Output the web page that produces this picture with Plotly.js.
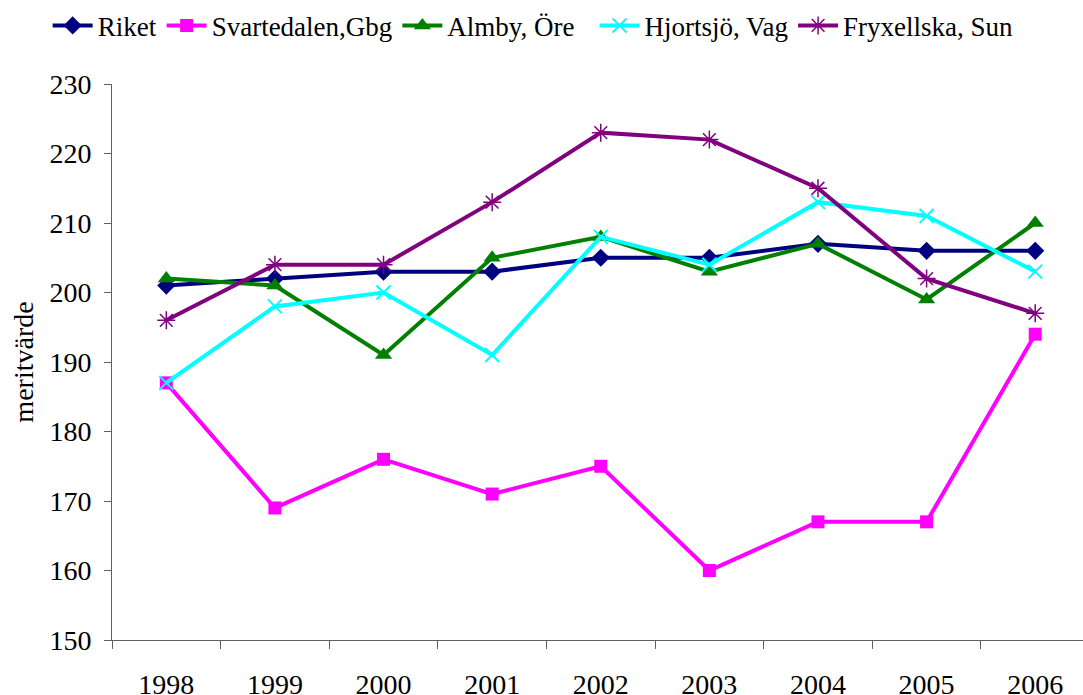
<!DOCTYPE html>
<html>
<head>
<meta charset="utf-8">
<script src="https://cdn.plot.ly/plotly-3.0.1.min.js"></script>
<style>html,body{margin:0;padding:0;overflow:hidden;background:#fff;}</style>
</head>
<body>
<div id="chart" style="width:1083px;height:695px;"></div>
<script>
const years = ["1998","1999","2000","2001","2002","2003","2004","2005","2006"];
const riket = [201, 202, 203, 203, 205, 205, 207, 206, 206];
const svartedalen = [187, 169, 176, 171, 175, 160, 167, 167, 194];
const almby = [202, 201, 191, 205, 208, 203, 207, 199, 210];
const hjortsjo = [187, 198, 200, 191, 208, 204, 213, 211, 203];
const fryxellska = [196, 204, 204, 213, 223, 222, 215, 202, 197];
const seriesNames = ["Riket", "Svartedalen,Gbg", "Almby, Öre", "Hjortsjö, Vag", "Fryxellska, Sun"];

const SERIF = "Liberation Serif";

function tr(name, y, color, symbol, size, mlinew, legendId) {
  return {
    x: years, y: y, name: name, type: "scatter", mode: "lines+markers",
    legend: legendId,
    line: {color: color, width: 4},
    marker: {color: color, symbol: symbol, size: size, line: {color: color, width: mlinew}}
  };
}
const data = [
  tr(seriesNames[0], riket, "#000080", "diamond", 14, 0, "legend"),
  tr(seriesNames[1], svartedalen, "#FF00FF", "square", 13, 0, "legend"),
  tr(seriesNames[2], almby, "#008000", "triangle-up", 15, 0, "legend"),
  tr(seriesNames[3], hjortsjo, "#00FFFF", "x-thin-open", 14, 2, "legend2"),
  tr(seriesNames[4], fryxellska, "#800080", "asterisk-open", 15, 1.5, "legend2")
];
function legendCfg(x) {
  return {
    orientation: "h", xref: "container", yref: "container",
    x: x, y: 0.998, xanchor: "left", yanchor: "top",
    itemwidth: 40,
    font: {size: 27, family: SERIF, color: "#000"},
    itemclick: false, bgcolor: "rgba(0,0,0,0)", traceorder: "normal"
  };
}
const layout = {
  width: 1083, height: 695,
  margin: {l: 112, r: 0, t: 84, b: 55},
  paper_bgcolor: "#fff", plot_bgcolor: "#fff",
  font: {family: SERIF, color: "#000", size: 28},
  showlegend: true,
  legend: legendCfg(0.044),
  legend2: legendCfg(0.549),
  xaxis: {
    type: "category", range: [-0.5, 8.44],
    showline: true, linecolor: "#606060", linewidth: 1,
    ticks: "outside", tickson: "boundaries", ticklen: 8, tickcolor: "#606060",
    showgrid: false, zeroline: false,
    tickfont: {size: 28, family: SERIF, color: "#000"}, ticklabelstandoff: 19
  },
  yaxis: {
    range: [150, 230], tickvals: [150,160,170,180,190,200,210,220,230],
    showline: true, linecolor: "#606060", linewidth: 1,
    ticks: "outside", ticklen: 7, tickcolor: "#606060",
    showgrid: false, zeroline: false,
    tickfont: {size: 28, family: SERIF, color: "#000"}, ticklabelstandoff: 7,
    title: {text: "meritvärde", font: {size: 28, family: SERIF, color: "#000"}, standoff: 7}
  }
};
Plotly.newPlot("chart", data, layout, {displayModeBar: false});
</script>
</body>
</html>
